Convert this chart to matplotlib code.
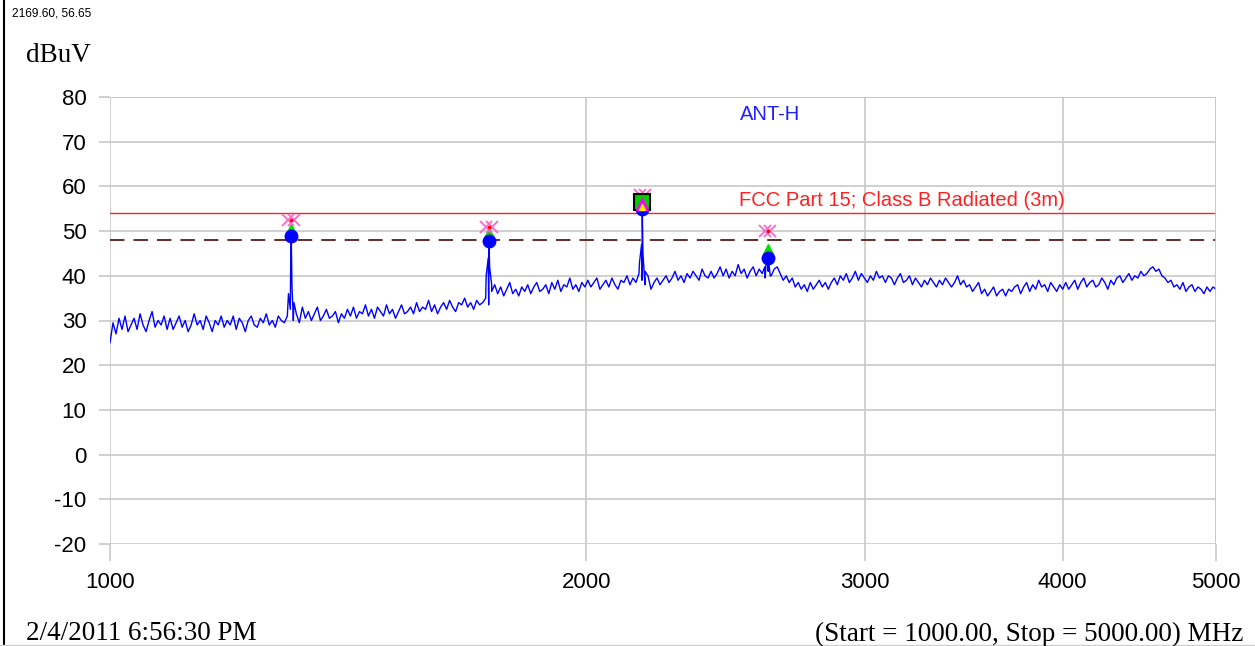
import numpy as np
import matplotlib.pyplot as plt
from matplotlib.lines import Line2D

# sweep limits (MHz) and trace, about every 3 px
f_start, f_stop = 1000.0, 5000.0
trace_db = [
    25, 29.5, 27, 30.5, 28, 31, 27.5, 29, 30.5, 28, 31.5, 29, 27.5, 30, 32, 28.5, 30, 29, 31, 28,
    30.5, 28, 29.5, 31, 28.5, 30, 27.5, 29, 31.5, 29, 30, 28, 31, 29.5, 27.5, 30, 29, 31, 28.5, 30,
    29, 31, 28, 30.5, 29.5, 27.5, 30, 31, 29, 28.5, 30.5, 29.5, 31.5, 29, 30, 28.5, 31, 30, 29.5, 31,
    32.5, 30, 31.5, 29.5, 33, 30.5, 32, 30, 31.5, 33, 30, 31, 32.5, 30.5, 31, 32, 29.5, 31.5, 30.5, 32.5,
    31, 33, 30.5, 32, 31.5, 33.5, 31, 32.5, 30.5, 33, 32, 31, 33.5, 31.5, 32.5, 30.5, 32, 33.5, 31.5, 32,
    33, 31.5, 34, 32, 33, 32.5, 34.5, 32, 33.5, 31.5, 33, 34, 32.5, 34.5, 33, 32, 34, 33.5, 35, 33,
    34, 32.5, 34.5, 33.5, 34, 35, 33.5, 36.5, 38, 36, 37.5, 35.5, 37, 38.5, 36, 37, 35.5, 37.5, 36.5, 38,
    36, 37.5, 38.5, 36.5, 37, 38, 36, 38.5, 37, 39, 36.5, 38, 37.5, 39.5, 37, 38, 36.5, 38.5, 37.5, 39,
    37.5, 38.5, 39.5, 37, 38, 39, 37.5, 39.5, 38, 37, 39, 38.5, 40, 38, 39.5, 38.5, 40.5, 39, 38, 40,
    37, 38.5, 39.5, 38, 39, 40, 38.5, 39.5, 41, 39, 40, 38.5, 40.5, 39.5, 41, 40, 39, 41.5, 40, 39.5,
    41, 39.5, 40.5, 42, 40, 41.5, 39.5, 41, 40, 42.5, 40.5, 41.5, 39.5, 41, 42, 40, 41.5, 40.5, 39.5, 41,
    40, 41.5, 42, 40.5, 39, 40, 38.5, 39.5, 37.5, 38.5, 37, 38, 36.5, 38.5, 37, 38, 39, 37.5, 38.5, 37,
    38.5, 39.5, 38, 40, 39, 40.5, 38.5, 39.5, 41, 39, 40.5, 39.5, 38.5, 40, 39, 41, 39.5, 40, 38.5, 40,
    39.5, 38, 39.5, 40.5, 38.5, 39, 40, 38, 39.5, 38.5, 37.5, 39, 38, 39.5, 38.5, 37.5, 39, 38, 39.5, 38.5,
    37.5, 38.5, 40, 38, 39, 37.5, 38, 36.5, 37.5, 38.5, 36, 37, 35.5, 36.5, 37.5, 35.5, 36.5, 37, 35.5, 37,
    36.5, 37.5, 38, 36, 37.5, 38.5, 36.5, 38, 37, 39, 37.5, 38, 36.5, 38.5, 37.5, 36.5, 38, 37, 38.5, 37,
    38, 39, 37, 38.5, 39.5, 37.5, 38.5, 39, 37.5, 38, 39.5, 38.5, 37, 39, 38, 39.5, 40, 38.5, 39.5, 40.5,
    39, 40, 39.5, 41, 40, 40.5, 41.5, 42, 41, 41.5, 40, 39.5, 38.5, 39, 37.5, 38, 37, 38.5, 36.5, 37.5,
    38, 36.5, 37.5, 37, 36, 37.5, 36.5, 37.5, 37,
]
trace_f = np.geomspace(f_start, f_stop, len(trace_db))

# harmonics found by the peak search
peak_f = [1301.8, 1735.7, 2169.6, 2603.5]
peak_db = [49.0, 47.8, 54.9, 44.0]
peak_shoulder = [36.0, 40.0, 43.0, 42.0]
quasi_db = [50.5, 49.5, 56.5, 46.0]   # green triangles
limit_mark = [52.5, 51.0, 58.0, 50.0]  # pink crosses

limit_db = 54.0
margin_db = 48.0

# put the spikes into the trace
f_all = list(trace_f)
v_all = list(trace_db)
for f, p, s in zip(peak_f, peak_db, peak_shoulder):
    f_all += [f * 0.996, f * 0.999, f, f * 1.001, f * 1.004]
    v_all += [s, s + 4, p, s + 2, s - 2]
order = np.argsort(f_all)
f_all = np.array(f_all)[order]
v_all = np.array(v_all)[order]

plt.rcParams['font.family'] = ['Liberation Sans', 'DejaVu Sans']

fig = plt.figure(figsize=(12.55, 6.46), dpi=100)
ax = fig.add_axes([110/1255, 1-544/646, 1106/1255, 447/646])

ax.plot(f_all, v_all, color='#0000ff', lw=1.0)
ax.axhline(limit_db, color='#ff2020', lw=1.0)
ax.axhline(margin_db, color='#5a1a1a', lw=1.3, dashes=(8, 5))

ax.plot(peak_f, quasi_db, '^', color='#00dd00', ms=7)
ax.plot(peak_f, peak_db, 'o', color='#0000ff', ms=9)
for f, m in zip(peak_f, limit_mark):
    ax.plot([f*0.996, f*1.004], [m, m], 'x', color='#ff66cc', ms=8, mew=1.3)
    ax.plot(f, m, '.', color='#ff0000', ms=3)
# stacked markers on the highest one
ax.plot(2169.6, 56.5, 's', mfc='#00cc00', mec='black', ms=12, mew=1.5)
ax.plot(2169.6, 56.0, '^', color='#ff00ff', ms=8)
ax.plot(2169.6, 55.5, '^', color='#ffee00', ms=4)

ax.set_xscale('log')
ax.set_xlim(f_start, f_stop)
ax.set_ylim(-20, 80)
ax.set_xticks([1000, 2000, 3000, 4000, 5000])
ax.set_xticklabels(['1000', '2000', '3000', '4000', '5000'])
ax.xaxis.set_minor_locator(plt.NullLocator())
ax.set_yticks(range(-20, 81, 10))
ax.set_yticklabels([str(v) for v in range(-20, 81, 10)])
ax.grid(True, color='#c8c8c8', lw=1.2)
for s in ax.spines.values():
    s.set_visible(False)
ax.tick_params(axis='y', length=8, width=1.2, color='#c8c8c8', pad=9, labelsize=16)
ax.tick_params(axis='x', length=12, width=1.2, color='#c8c8c8', pad=8, labelsize=16)
# right and top frame lines from the grid
ax.axvline(f_stop, color='#c8c8c8', lw=1.2)
ax.axhline(80, color='#c8c8c8', lw=1.2)

ax.text(0.597, 1 - (115-97)/447, 'ANT-H', transform=ax.transAxes, color='#2020ff', fontsize=14.5,
        ha='center', va='center')
ax.text(0.716, 1 - (201-97)/447, 'FCC Part 15; Class B Radiated (3m)', transform=ax.transAxes,
        color='#ff2020', fontsize=14.5, ha='center', va='center')

fig.text(12/1255, 1-14/646, '2169.60, 56.65', fontsize=8.6, va='center')
fig.text(26/1255, 1-55/646, 'dBuV', family=['Liberation Serif'], fontsize=19.5, va='center')
fig.text(26/1255, 1-634/646, '2/4/2011 6:56:30 PM', family=['Liberation Serif'], fontsize=19.5, va='center')
fig.text(1243/1255, 1-634/646, '(Start = 1000.00, Stop = 5000.00) MHz', family=['Liberation Serif'],
         fontsize=19.5, va='center', ha='right')

fig.add_artist(Line2D([4/1255, 4/1255], [0, 1], color='black', lw=1.5))
fig.add_artist(Line2D([0, 1], [1/646, 1/646], color='#d0d0d0', lw=1.0))

fig.savefig('out.png', dpi=100)
